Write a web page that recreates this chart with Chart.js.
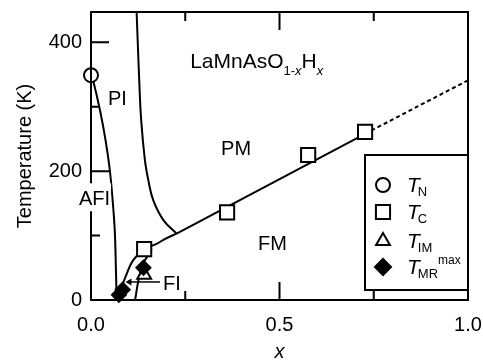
<!DOCTYPE html>
<html>
<head>
<meta charset="utf-8">
<script src="https://cdn.jsdelivr.net/npm/chart.js@4"></script>
<style>
  html, body { margin: 0; padding: 0; background: #fff; }
  #wrap { width: 483px; height: 360px; }
</style>
</head>
<body>
<div id="wrap"><canvas id="c"></canvas></div>
<script>
// axis ticks
const xMajor = [0, 0.5, 1.0];
const xMinor = [0.25, 0.75];
const yMajor = [0, 200, 400];
const yMinor = [100, 300];

// measured points
const tN = [{x: 0, y: 349}];
const tC = [{x: 0.141, y: 79}, {x: 0.361, y: 136}, {x: 0.576, y: 225}, {x: 0.727, y: 261}];
const tIM = [{x: 0.141, y: 39}];
const tMR = [{x: 0.139, y: 50}, {x: 0.074, y: 8}, {x: 0.084, y: 16}];

// phase boundaries
const afiLine = [{x: 0, y: 349}, {x: 0.006, y: 340}, {x: 0.024, y: 294}, {x: 0.038, y: 250}, {x: 0.05, y: 201},
  {x: 0.058, y: 150}, {x: 0.063, y: 108}, {x: 0.066, y: 50}, {x: 0.068, y: 0}];
const pmLine = [{x: 0.121, y: 447}, {x: 0.124, y: 400}, {x: 0.128, y: 340}, {x: 0.133, y: 280}, {x: 0.143, y: 217},
  {x: 0.152, y: 186}, {x: 0.165, y: 155}, {x: 0.192, y: 124}, {x: 0.227, y: 103}];
const tcCurve = [{x: 0.072, y: 0}, {x: 0.082, y: 21}, {x: 0.095, y: 41}, {x: 0.112, y: 62}, {x: 0.141, y: 79},
  {x: 0.174, y: 87}, {x: 0.197, y: 95}, {x: 0.227, y: 103}];
const tcStraight = [{x: 0.227, y: 103}, {x: 0.727, y: 258}];
const tcDotted = [{x: 0.727, y: 258}, {x: 1.0, y: 341}];
const fiLine = [{x: 0.161, y: 80}, {x: 0.152, y: 70}, {x: 0.137, y: 55}, {x: 0.126, y: 31}, {x: 0.117, y: 0}];
const fiArrow = [{x: 0.183, y: 28}, {x: 0.102, y: 28}];

const FONT = 'Arial, "Liberation Sans", sans-serif';

function lineSet(data, extra) {
  return Object.assign({
    data: data, showLine: true, borderColor: '#000', borderWidth: 2,
    pointRadius: 0, tension: 0.4, fill: false
  }, extra || {});
}

function markSet(data, style, r, fill) {
  return {
    data: data, showLine: false, pointStyle: style, pointRadius: r,
    pointBackgroundColor: fill, pointBorderColor: '#000', pointBorderWidth: 2, clip: false
  };
}

const deco = {
  id: 'deco',
  afterDatasetsDraw(chart) {
    const ctx = chart.ctx;
    const a = chart.chartArea;
    const xs = chart.scales.x, ys = chart.scales.y;
    const px = v => xs.getPixelForValue(v);
    const py = v => ys.getPixelForValue(v);
    ctx.save();
    ctx.strokeStyle = '#000';
    ctx.lineWidth = 2;
    ctx.strokeRect(a.left, a.top, a.right - a.left, a.bottom - a.top);

    // inward ticks
    ctx.beginPath();
    xMajor.concat(xMinor).forEach(v => {
      const len = xMajor.includes(v) ? 18 : 9;
      ctx.moveTo(px(v), a.bottom); ctx.lineTo(px(v), a.bottom - len);
      ctx.moveTo(px(v), a.top); ctx.lineTo(px(v), a.top + len);
    });
    yMajor.concat(yMinor).forEach(v => {
      const len = yMajor.includes(v) ? 18 : 9;
      ctx.moveTo(a.left, py(v)); ctx.lineTo(a.left + len, py(v));
    });
    ctx.stroke();

    ctx.fillStyle = '#000';
    ctx.textBaseline = 'alphabetic';
    ctx.textAlign = 'left';
    const txt = (s, x, y, size, italic) => {
      ctx.font = (italic ? 'italic ' : '') + size + 'px ' + FONT;
      ctx.fillText(s, x, y);
      return x + ctx.measureText(s).width;
    };

    // x axis title
    ctx.textAlign = 'center';
    txt('x', (a.left + a.right) / 2, chart.height - 2, 20, true);
    ctx.textAlign = 'left';

    // compound formula
    let x = px(0.263), y = py(360);
    x = txt('LaMnAsO', x, y, 21);
    x = txt('1-', x, y + 7, 13);
    x = txt('x', x, y + 7, 13, true);
    x = txt('H', x, y, 21);
    txt('x', x, y + 7, 13, true);

    txt('PI', px(0.045), py(302), 20);
    txt('PM', px(0.345), py(225), 20);
    txt('FM', px(0.443), py(77.5), 20);
    txt('FI', px(0.191), py(15.5), 20);

    // AFI over the axis
    ctx.font = '20px ' + FONT;
    const afx = px(-0.032), afy = py(147);
    const w = ctx.measureText('AFI').width;
    ctx.fillStyle = '#fff';
    ctx.fillRect(afx - 1, afy - 22, w + 2, 28);
    ctx.fillStyle = '#000';
    txt('AFI', afx, afy, 20);

    // legend box
    const L = a.right - 103, T = 155, B = a.bottom - 10;
    ctx.fillStyle = '#fff';
    ctx.fillRect(L, T, a.right - L, B - T);
    ctx.strokeRect(L, T, a.right - L, B - T);
    const mx = L + 18, tx = L + 42;
    const rows = [T + 30, T + 57, T + 86, T + 112];
    const marker = (style, r, fill, cy) => {
      ctx.fillStyle = fill;
      ctx.strokeStyle = '#000';
      Chart.helpers.drawPoint(ctx, {pointStyle: style, radius: r, borderWidth: 2, rotation: 0}, mx, cy);
    };
    marker('circle', 7, '#fff', rows[0]);
    marker('rect', 10, '#fff', rows[1]);
    marker('triangle', 8, '#fff', rows[2]);
    marker('rectRot', 8, '#000', rows[3]);
    ctx.fillStyle = '#000';
    const subs = ['N', 'C', 'IM', 'MR'];
    rows.forEach((cy, i) => {
      const ex = txt('T', tx, cy + 7, 21, true);
      const sx = txt(subs[i], ex - 2, cy + 11, 13);
      if (i === 3) txt('max', sx, cy - 3, 12);
    });
    ctx.restore();
  }
};

new Chart(document.getElementById('c'), {
  type: 'scatter',
  data: {
    datasets: [
      markSet(tN, 'circle', 7, '#fff'),
      markSet(tMR, 'rectRot', 7, '#000'),
      markSet(tIM, 'triangle', 8, '#fff'),
      markSet(tC, 'rect', 10, '#fff'),
      lineSet(fiArrow, {
        borderWidth: 1.5, tension: 0, pointStyle: 'triangle', rotation: -90,
        pointRadius: c => c.dataIndex === 1 ? 4 : 0, pointBackgroundColor: '#000', pointBorderWidth: 0
      }),
      lineSet(afiLine),
      lineSet(pmLine),
      lineSet(tcCurve),
      lineSet(tcStraight, {tension: 0}),
      lineSet(tcDotted, {tension: 0, borderDash: [4, 3]}),
      lineSet(fiLine)
    ]
  },
  plugins: [deco],
  options: {
    responsive: true,
    maintainAspectRatio: false,
    animation: false,
    events: [],
    layout: {padding: {top: 12, right: 15, left: 0, bottom: 0}},
    plugins: {legend: {display: false}, tooltip: {enabled: false}},
    scales: {
      x: {
        type: 'linear', min: 0, max: 1.0,
        afterFit: s => { s.height = 60; s.paddingLeft = 0; s.paddingRight = 0; },
        afterBuildTicks: s => { s.ticks = xMajor.map(v => ({value: v})); },
        grid: {display: false, drawTicks: false},
        border: {display: false},
        ticks: {color: '#000', font: {family: FONT, size: 20}, padding: 13, callback: v => v.toFixed(1)},
        title: {display: false}
      },
      y: {
        type: 'linear', min: 0, max: 447,
        afterFit: s => { s.width = 91; s.paddingTop = 0; s.paddingBottom = 0; },
        afterBuildTicks: s => { s.ticks = yMajor.map(v => ({value: v})); },
        grid: {display: false, drawTicks: false},
        border: {display: false},
        ticks: {color: '#000', font: {family: FONT, size: 20}, padding: 9},
        title: {display: true, text: 'Temperature (K)', color: '#000', font: {family: FONT, size: 20}, padding: {top: 13, bottom: 0}}
      }
    }
  }
});
</script>
</body>
</html>
